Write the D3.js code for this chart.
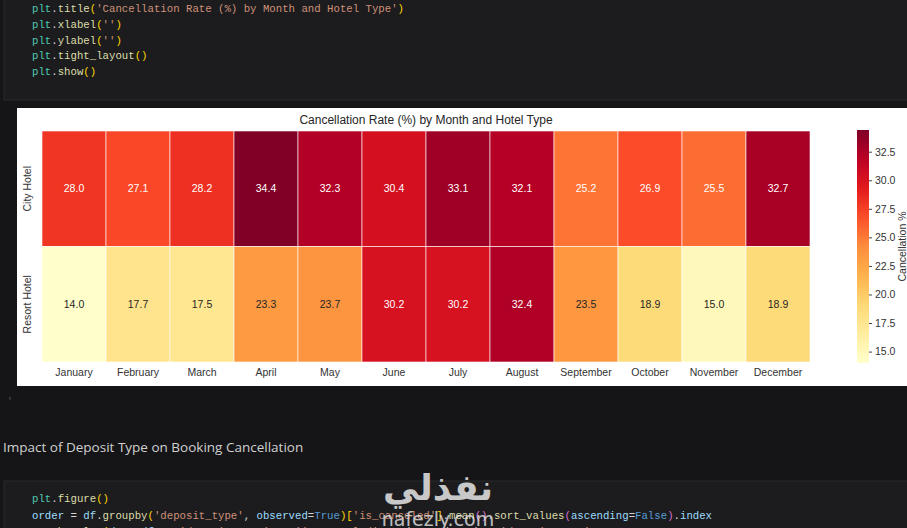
<!DOCTYPE html>
<html>
<head>
<meta charset="utf-8">
<script src="https://cdn.jsdelivr.net/npm/d3@7"></script>
<style>
  html, body { margin: 0; padding: 0; background: #151517; overflow: hidden; }
  svg { display: block; }
</style>
</head>
<body>
<div id="chart"></div>
<script>
const months = ['January', 'February', 'March', 'April', 'May', 'June', 'July',
  'August', 'September', 'October', 'November', 'December']
const hotels = ['City Hotel', 'Resort Hotel']
const cityRates = [28.0, 27.1, 28.2, 34.4, 32.3, 30.4, 33.1, 32.1, 25.2, 26.9, 25.5, 32.7]
const resortRates = [14.0, 17.7, 17.5, 23.3, 23.7, 30.2, 30.2, 32.4, 23.5, 18.9, 15.0, 18.9]
const colorbarTicks = [15.0, 17.5, 20.0, 22.5, 25.0, 27.5, 30.0, 32.5]

const codeTop = [
  [['plt', '#4ec9b0'], ['.', '#d4d4d4'], ['title', '#dcdcaa'], ['(', '#ffd700'], ["'Cancellation Rate (%) by Month and Hotel Type'", '#ce9178'], [')', '#ffd700']],
  [['plt', '#4ec9b0'], ['.', '#d4d4d4'], ['xlabel', '#dcdcaa'], ['(', '#ffd700'], ["''", '#ce9178'], [')', '#ffd700']],
  [['plt', '#4ec9b0'], ['.', '#d4d4d4'], ['ylabel', '#dcdcaa'], ['(', '#ffd700'], ["''", '#ce9178'], [')', '#ffd700']],
  [['plt', '#4ec9b0'], ['.', '#d4d4d4'], ['tight_layout', '#dcdcaa'], ['()', '#ffd700']],
  [['plt', '#4ec9b0'], ['.', '#d4d4d4'], ['show', '#dcdcaa'], ['()', '#ffd700']]
]
const codeBottom = [
  [['plt', '#4ec9b0'], ['.', '#d4d4d4'], ['figure', '#dcdcaa'], ['()', '#ffd700']],
  [['order', '#9cdcfe'], [' = ', '#d4d4d4'], ['df', '#9cdcfe'], ['.', '#d4d4d4'], ['groupby', '#dcdcaa'], ['(', '#ffd700'],
    ["'deposit_type'", '#ce9178'], [', ', '#d4d4d4'], ['observed', '#9cdcfe'], ['=', '#d4d4d4'], ['True', '#569cd6'],
    [')', '#ffd700'], ['[', '#ffd700'], ["'is_canceled'", '#ce9178'], [']', '#ffd700'], ['.', '#d4d4d4'], ['mean', '#dcdcaa'],
    ['()', '#da70d6'], ['.', '#d4d4d4'], ['sort_values', '#dcdcaa'], ['(', '#da70d6'], ['ascending', '#9cdcfe'],
    ['=', '#d4d4d4'], ['False', '#569cd6'], [')', '#da70d6'], ['.', '#d4d4d4'], ['index', '#9cdcfe']],
  [['sns', '#4ec9b0'], ['.', '#d4d4d4'], ['barplot', '#dcdcaa'], ['(', '#ffd700'], ['data', '#9cdcfe'], ['=', '#d4d4d4'], ['df', '#9cdcfe'],
    [', x=', '#d4d4d4'], ["'deposit_type'", '#ce9178'], [', y=', '#d4d4d4'], ["'is_canceled'", '#ce9178'], [', order=order, hue=', '#d4d4d4'], ["'deposit_type'", '#ce9178']]
]

const W = 907
const H = 528

const svg = d3.select('#chart')
  .append('svg')
  .attr('width', W)
  .attr('height', H)

// notebook background
svg.append('rect').attr('width', W).attr('height', H).attr('fill', '#151517')

// top code cell
svg.append('rect')
  .attr('x', 4).attr('y', -6).attr('width', W).attr('height', 106)
  .attr('fill', '#1c1c1f').attr('stroke', '#2b2b2e')

function drawCode(lines, x, y0, step) {
  lines.forEach((tokens, i) => {
    const t = svg.append('text')
      .attr('x', x).attr('y', y0 + i * step)
      .attr('font-family', "'Liberation Mono', 'DejaVu Sans Mono', monospace")
      .attr('font-size', '10.7px')
      .attr('xml:space', 'preserve')
    tokens.forEach(tok => {
      t.append('tspan').attr('fill', tok[1]).text(tok[0])
    })
  })
}
drawCode(codeTop, 32, 12, 15.8)

// figure panel
const panel = { x: 17, y: 108, w: W - 17, h: 278 }
svg.append('rect')
  .attr('x', panel.x).attr('y', panel.y)
  .attr('width', panel.w).attr('height', panel.h)
  .attr('fill', '#ffffff')

// heatmap
const xScale = d3.scaleBand().domain(months).range([42, 810])
const yScale = d3.scaleBand().domain(hotels).range([131, 362])

const vmin = d3.min(resortRates.concat(cityRates))
const vmax = d3.max(resortRates.concat(cityRates))
const colorScale = d3.scaleSequential(d3.piecewise(d3.interpolateRgb, d3.schemeYlOrRd[9]))
  .domain([vmin, vmax])

function luminance(c) {
  const rgb = d3.rgb(c)
  const lin = v => {
    v = v / 255
    return v <= 0.03928 ? v / 12.92 : Math.pow((v + 0.055) / 1.055, 2.4)
  }
  return 0.2126 * lin(rgb.r) + 0.7152 * lin(rgb.g) + 0.0722 * lin(rgb.b)
}

const cells = []
hotels.forEach((h, i) => {
  const vals = i === 0 ? cityRates : resortRates
  months.forEach((m, j) => cells.push({ hotel: h, month: m, value: vals[j] }))
})

const g = svg.append('g')

g.selectAll('rect.cell')
  .data(cells)
  .enter()
  .append('rect')
  .attr('class', 'cell')
  .attr('x', d => xScale(d.month))
  .attr('y', d => yScale(d.hotel))
  .attr('width', xScale.bandwidth())
  .attr('height', yScale.bandwidth())
  .attr('fill', d => colorScale(d.value))
  .attr('stroke', '#ffffff')
  .attr('stroke-width', 0.6)

g.selectAll('text.annot')
  .data(cells)
  .enter()
  .append('text')
  .attr('class', 'annot')
  .attr('x', d => xScale(d.month) + xScale.bandwidth() / 2)
  .attr('y', d => yScale(d.hotel) + yScale.bandwidth() / 2)
  .attr('dy', '0.35em')
  .attr('text-anchor', 'middle')
  .attr('font-family', "'Liberation Sans', Arial, sans-serif")
  .attr('font-size', '10.5px')
  .attr('fill', d => luminance(colorScale(d.value)) > 0.408 ? '#262626' : '#ffffff')
  .text(d => d.value.toFixed(1))

// title
svg.append('text')
  .attr('x', 426).attr('y', 124)
  .attr('text-anchor', 'middle')
  .attr('font-family', "'Liberation Sans', Arial, sans-serif")
  .attr('font-size', '12px')
  .attr('fill', '#262626')
  .text('Cancellation Rate (%) by Month and Hotel Type')

// x axis
const xAxis = d3.axisBottom(xScale).tickSize(0).tickPadding(7)
svg.append('g')
  .attr('class', 'x-axis')
  .attr('transform', 'translate(0,362)')
  .call(xAxis)
svg.select('.x-axis .domain').remove()
svg.selectAll('.x-axis text')
  .attr('font-family', "'Liberation Sans', Arial, sans-serif")
  .attr('font-size', '10.5px')
  .attr('fill', '#333333')

// y axis
const yAxis = d3.axisLeft(yScale).tickSize(0).tickPadding(0)
const yg = svg.append('g')
  .attr('class', 'y-axis')
  .attr('transform', 'translate(42,0)')
  .call(yAxis)
yg.select('.domain').remove()
yg.selectAll('text')
  .attr('font-family', "'Liberation Sans', Arial, sans-serif")
  .attr('font-size', '10.5px')
  .attr('fill', '#333333')
  .attr('text-anchor', 'middle')
  .attr('x', 0).attr('dy', 0)
  .attr('transform', 'translate(-11,0) rotate(-90)')

// colorbar
const cb = { x: 857, y: 130, w: 12, h: 233 }
const defs = svg.append('defs')
const grad = defs.append('linearGradient')
  .attr('id', 'cbgrad')
  .attr('x1', 0).attr('y1', 1).attr('x2', 0).attr('y2', 0)
d3.range(0, 1.0001, 0.05).forEach(t => {
  grad.append('stop')
    .attr('offset', t)
    .attr('stop-color', colorScale(vmin + t * (vmax - vmin)))
})
svg.append('rect')
  .attr('x', cb.x).attr('y', cb.y)
  .attr('width', cb.w).attr('height', cb.h)
  .attr('fill', 'url(#cbgrad)')

const cbScale = d3.scaleLinear().domain([vmin, vmax]).range([cb.y + cb.h, cb.y])
const cbAxis = d3.axisRight(cbScale)
  .tickValues(colorbarTicks)
  .tickFormat(d3.format('.1f'))
  .tickSize(3)
  .tickPadding(3)
const cbg = svg.append('g')
  .attr('class', 'cb-axis')
  .attr('transform', 'translate(' + (cb.x + cb.w) + ',0)')
  .call(cbAxis)
cbg.select('.domain').remove()
cbg.selectAll('line').attr('stroke', '#444444')
cbg.selectAll('text')
  .attr('font-family', "'Liberation Sans', Arial, sans-serif")
  .attr('font-size', '10.5px')
  .attr('fill', '#333333')

svg.append('text')
  .attr('transform', 'translate(906,' + (cb.y + cb.h / 2) + ') rotate(-90)')
  .attr('text-anchor', 'middle')
  .attr('font-family', "'Liberation Sans', Arial, sans-serif")
  .attr('font-size', '10.5px')
  .attr('fill', '#333333')
  .text('Cancellation %')

// below the figure
svg.append('text')
  .attr('x', 8).attr('y', 401)
  .attr('font-family', "'DejaVu Sans', sans-serif")
  .attr('font-size', '9px')
  .attr('fill', '#555555')
  .text('‹')

svg.append('text')
  .attr('x', 3).attr('y', 452)
  .attr('font-family', "'Open Sans', 'Noto Sans', sans-serif")
  .attr('font-size', '13.5px')
  .attr('fill', '#d0d0d0')
  .text('Impact of Deposit Type on Booking Cancellation')

svg.append('rect')
  .attr('x', 4).attr('y', 481).attr('width', W).attr('height', 60)
  .attr('fill', '#1c1c1f').attr('stroke', '#2b2b2e')

drawCode(codeBottom, 32, 502, 16.5)

// watermark
svg.append('text')
  .attr('x', 438).attr('y', 500)
  .attr('text-anchor', 'middle')
  .attr('font-family', "'DejaVu Sans', sans-serif")
  .attr('font-weight', 'bold')
  .attr('font-size', '36px')
  .attr('fill', '#e6e6e6')
  .attr('opacity', 0.85)
  .text('نفذلي')

svg.append('text')
  .attr('x', 438).attr('y', 526)
  .attr('text-anchor', 'middle')
  .attr('font-family', "'DejaVu Sans', sans-serif")
  .attr('font-size', '19px')
  .attr('fill', '#e6e6e6')
  .attr('opacity', 0.8)
  .text('nafezly.com')
</script>
</body>
</html>
